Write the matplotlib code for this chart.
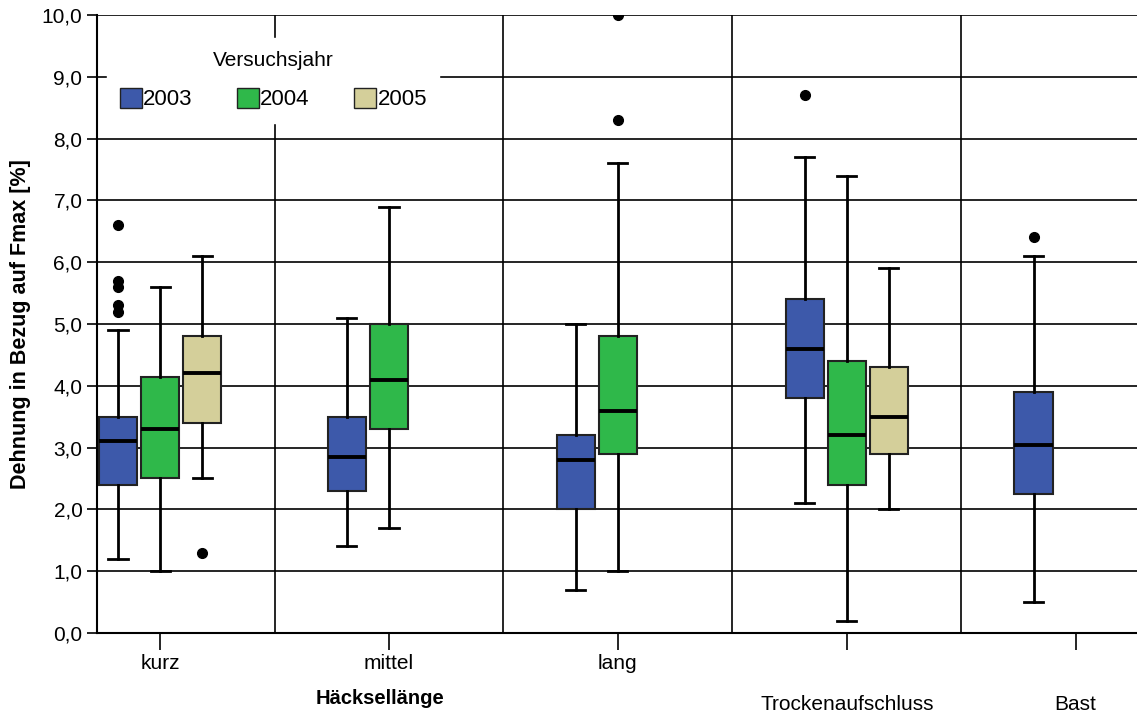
import matplotlib.pyplot as plt
from matplotlib.patches import Patch
import matplotlib.transforms as mtransforms

plt.rcParams['font.family'] = ['Liberation Sans', 'DejaVu Sans']

# categories / groups
groups = ['kurz', 'mittel', 'lang', 'Trockenaufschluss', 'Bast']
years = ['2003', '2004', '2005']
colors = ['#3D59AA', '#2FB84A', '#D4CF9A']

# box statistics per year, one entry per group (None = no data)
med_2003 = [3.1, 2.85, 2.8, 4.6, 3.05]
q1_2003 = [2.4, 2.3, 2.0, 3.8, 2.25]
q3_2003 = [3.5, 3.5, 3.2, 5.4, 3.9]
lo_2003 = [1.2, 1.4, 0.7, 2.1, 0.5]
hi_2003 = [4.9, 5.1, 5.0, 7.7, 6.1]
out_2003 = [[6.6, 5.7, 5.6, 5.3, 5.2], [], [], [8.7], [6.4]]

med_2004 = [3.3, 4.1, 3.6, 3.2, None]
q1_2004 = [2.5, 3.3, 2.9, 2.4, None]
q3_2004 = [4.15, 5.0, 4.8, 4.4, None]
lo_2004 = [1.0, 1.7, 1.0, 0.2, None]
hi_2004 = [5.6, 6.9, 7.6, 7.4, None]
out_2004 = [[], [], [8.3, 10.0], [], []]

med_2005 = [4.2, None, None, 3.5, None]
q1_2005 = [3.4, None, None, 2.9, None]
q3_2005 = [4.8, None, None, 4.3, None]
lo_2005 = [2.5, None, None, 2.0, None]
hi_2005 = [6.1, None, None, 5.9, None]
out_2005 = [[1.3], [], [], [], []]

data = {
    '2003': (med_2003, q1_2003, q3_2003, lo_2003, hi_2003, out_2003),
    '2004': (med_2004, q1_2004, q3_2004, lo_2004, hi_2004, out_2004),
    '2005': (med_2005, q1_2005, q3_2005, lo_2005, hi_2005, out_2005),
}

fig = plt.figure(figsize=(11.37, 7.15), dpi=100)
ax = fig.add_axes([0.0853, 0.1147, 0.9147, 0.8643])

offset = 0.184
width = 0.167
for k, yr in enumerate(years):
    med, q1, q3, lo, hi, fl = data[yr]
    stats, pos = [], []
    for i in range(len(groups)):
        if med[i] is None:
            continue
        stats.append(dict(med=med[i], q1=q1[i], q3=q3[i],
                          whislo=lo[i], whishi=hi[i], fliers=fl[i]))
        pos.append(i + (k - 1) * offset)
    ax.bxp(stats, positions=pos, widths=width, patch_artist=True,
           manage_ticks=False,
           boxprops=dict(facecolor=colors[k], edgecolor='#222222', linewidth=1.5),
           medianprops=dict(color='black', linewidth=2.8),
           whiskerprops=dict(color='black', linewidth=2),
           capprops=dict(color='black', linewidth=2),
           capwidths=width * 0.5,
           flierprops=dict(marker='o', markerfacecolor='black',
                           markeredgecolor='black', markersize=7))

ax.set_ylim(0, 10)
ax.set_xlim(-0.276, 4.268)
ax.set_yticks(range(11))
ax.set_yticklabels([f'{v},0' for v in range(11)], fontsize=15)
ax.yaxis.grid(True, color='black', linewidth=1.2)
ax.set_axisbelow(True)
for s in [0.5, 1.5, 2.5, 3.5]:
    ax.axvline(s, color='black', linewidth=1.2, zorder=0.5)

for sp in ['top', 'right']:
    ax.spines[sp].set_visible(False)
ax.spines['left'].set_linewidth(1.5)
ax.spines['bottom'].set_linewidth(1.5)
ax.tick_params(axis='y', length=7, width=1.2)
ax.tick_params(axis='x', length=12, width=1.2, pad=3)

ax.set_xticks(range(len(groups)))
ax.set_xticklabels(['kurz', 'mittel', 'lang', '', ''], fontsize=15)

trans = mtransforms.blended_transform_factory(ax.transData, fig.transFigure)
ax.text(0.96, 1 - 698 / 715, 'Häcksellänge', transform=trans, ha='center',
        va='center', fontsize=14.5, fontweight='bold')
ax.text(3.0, 1 - 705 / 715, 'Trockenaufschluss', transform=trans,
        ha='center', va='center', fontsize=15)
ax.text(4.0, 1 - 705 / 715, 'Bast', transform=trans, ha='center',
        va='center', fontsize=15)

ax.set_ylabel('Dehnung in Bezug auf Fmax [%]', fontsize=15.5, fontweight='bold',
              labelpad=8)

handles = [Patch(facecolor=c, edgecolor='#222222', label=y)
           for c, y in zip(colors, years)]
leg = ax.legend(handles=handles, title='Versuchsjahr', ncol=3,
                loc='upper left', bbox_to_anchor=(0.01, 0.962),
                borderaxespad=0, fontsize=16, title_fontsize=15,
                handlelength=1.0, handleheight=1.0, handletextpad=0.05,
                columnspacing=2.0, frameon=True, fancybox=False,
                borderpad=0.55)
leg._legend_box.sep = 13
leg.get_frame().set_facecolor('white')
leg.get_frame().set_edgecolor('white')
leg.get_frame().set_alpha(1)

plt.savefig('out.png', dpi=100)
